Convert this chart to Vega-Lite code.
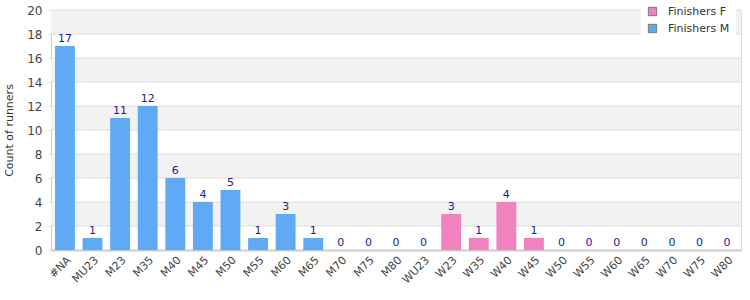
{
  "$schema": "https://vega.github.io/schema/vega-lite/v6.json",
  "width": 690,
  "height": 240,
  "autosize": {"type": "none"},
  "padding": {"left": 51, "top": 10, "right": 9, "bottom": 50},
  "background": "white",
  "config": {
    "view": {"stroke": "#dddddd", "strokeWidth": 1},
    "font": "DejaVu Sans",
    "axis": {"labelFont": "DejaVu Sans", "titleFont": "DejaVu Sans"},
    "axisY": {"tickCount": 10, "labelOverlap": false, "grid": false}
  },
  "datasets": {
    "bands": [
      {"lo": 2, "hi": 4},
      {"lo": 6, "hi": 8},
      {"lo": 10, "hi": 12},
      {"lo": 14, "hi": 16},
      {"lo": 18, "hi": 20}
    ],
    "grid": [
      {"v": 2}, {"v": 4}, {"v": 6}, {"v": 8}, {"v": 10},
      {"v": 12}, {"v": 14}, {"v": 16}, {"v": 18}, {"v": 20}
    ],
    "runners": [
      {"cat": "#NA", "series": "Finishers M", "count": 17},
      {"cat": "MU23", "series": "Finishers M", "count": 1},
      {"cat": "M23", "series": "Finishers M", "count": 11},
      {"cat": "M35", "series": "Finishers M", "count": 12},
      {"cat": "M40", "series": "Finishers M", "count": 6},
      {"cat": "M45", "series": "Finishers M", "count": 4},
      {"cat": "M50", "series": "Finishers M", "count": 5},
      {"cat": "M55", "series": "Finishers M", "count": 1},
      {"cat": "M60", "series": "Finishers M", "count": 3},
      {"cat": "M65", "series": "Finishers M", "count": 1},
      {"cat": "M70", "series": "Finishers M", "count": 0},
      {"cat": "M75", "series": "Finishers M", "count": 0},
      {"cat": "M80", "series": "Finishers M", "count": 0},
      {"cat": "WU23", "series": "Finishers F", "count": 0},
      {"cat": "W23", "series": "Finishers F", "count": 3},
      {"cat": "W35", "series": "Finishers F", "count": 1},
      {"cat": "W40", "series": "Finishers F", "count": 4},
      {"cat": "W45", "series": "Finishers F", "count": 1},
      {"cat": "W50", "series": "Finishers F", "count": 0},
      {"cat": "W55", "series": "Finishers F", "count": 0},
      {"cat": "W60", "series": "Finishers F", "count": 0},
      {"cat": "W65", "series": "Finishers F", "count": 0},
      {"cat": "W70", "series": "Finishers F", "count": 0},
      {"cat": "W75", "series": "Finishers F", "count": 0},
      {"cat": "W80", "series": "Finishers F", "count": 0}
    ]
  },
  "layer": [
    {
      "data": {"name": "bands"},
      "mark": {"type": "rect", "color": "#f2f2f2"},
      "encoding": {
        "y": {"field": "lo", "type": "quantitative", "scale": {"domain": [0, 20], "nice": false}},
        "y2": {"field": "hi"}
      }
    },
    {
      "data": {"name": "grid"},
      "mark": {"type": "rule", "color": "#dddddd", "strokeWidth": 1},
      "encoding": {
        "y": {"field": "v", "type": "quantitative"}
      }
    },
    {
      "data": {"name": "runners"},
      "mark": {"type": "bar"},
      "encoding": {
        "x": {
          "field": "cat", "type": "nominal", "sort": null,
          "scale": {"paddingInner": 0.28, "paddingOuter": 0.145},
          "axis": {
            "title": null, "labelAngle": -45, "labelAlign": "right", "labelBaseline": "top",
            "labelColor": "#444444", "labelFontSize": 11, "ticks": false, "labelPadding": 4,
            "domainColor": "#cccccc", "domainWidth": 2, "labelOverlap": false
          }
        },
        "y": {
          "field": "count", "type": "quantitative",
          "axis": {
            "title": "Count of runners", "titleColor": "#333333", "titleFontSize": 11, "titleFontWeight": "normal",
            "titlePadding": 12, "grid": false, "labelOverlap": false, "tickCount": 10,
            "labelColor": "#444444", "labelFontSize": 12, "tickSize": 3, "tickColor": "#dddddd",
            "domainColor": "#cccccc", "labelPadding": 6
          }
        },
        "color": {
          "field": "series", "type": "nominal",
          "scale": {"domain": ["Finishers F", "Finishers M"], "range": ["#f282be", "#60a9f5"]},
          "legend": {
            "title": null, "orient": "none", "legendX": 590, "legendY": -10,
            "fillColor": "white", "padding": 6, "symbolType": "square", "symbolSize": 70,
            "symbolStrokeColor": "#777777", "symbolStrokeWidth": 1,
            "labelFontSize": 11, "labelColor": "#333333", "rowPadding": 4, "labelOffset": 10
          }
        }
      }
    },
    {
      "data": {"name": "runners"},
      "mark": {"type": "text", "dy": -7, "fontSize": 11, "color": "#1a1a99"},
      "encoding": {
        "x": {"field": "cat", "type": "nominal", "sort": null},
        "y": {"field": "count", "type": "quantitative"},
        "text": {"field": "count", "type": "quantitative"}
      }
    }
  ]
}
